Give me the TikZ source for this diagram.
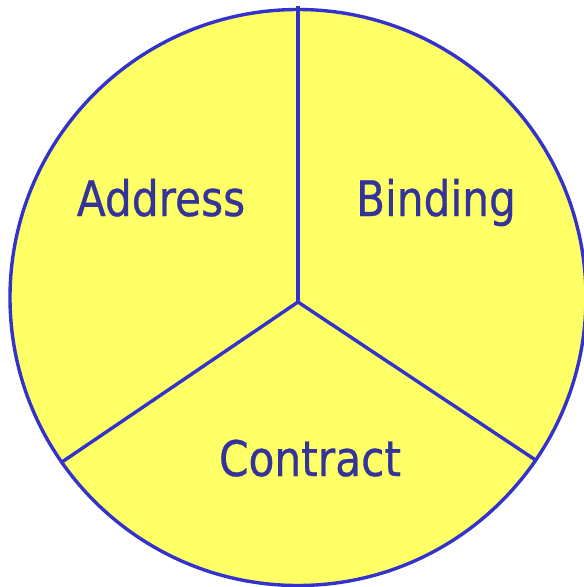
\documentclass[tikz,border=0pt]{standalone}
\usepackage{fontspec}
\setmainfont{DejaVu Sans Condensed}[FakeStretch=0.96,FakeBold=0.6]
\definecolor{pieline}{HTML}{3333CC}
\definecolor{piefill}{HTML}{FFFF66}
\definecolor{pietext}{HTML}{333399}
\begin{document}
\begin{tikzpicture}[x=1pt,y=-1pt,
  edge/.style={draw=pieline,line width=3.4pt},
  lbl/.style={text=pietext,font=\fontsize{49}{55}\selectfont,inner sep=0pt,anchor=base}]
\useasboundingbox (0,0) rectangle (584,587);
\coordinate (c) at (298,297.5);
\coordinate (j) at (298,302);
\coordinate (top) at (298,6);
\coordinate (bl) at (62,462);
\coordinate (br) at (537,461);
\fill[piefill] (c) circle[radius=288];
\draw[edge] (c) circle[radius=288];
\draw[edge] (top) -- (j);
\draw[edge] (j) -- (bl);
\draw[edge] (j) -- (br);
\node[lbl] (addr) at (161,216) {Address};
\node[lbl] (bind) at (436,216) {Binding};
\node[lbl] (contr) at (310,476) {Contract};
\end{tikzpicture}
\end{document}
